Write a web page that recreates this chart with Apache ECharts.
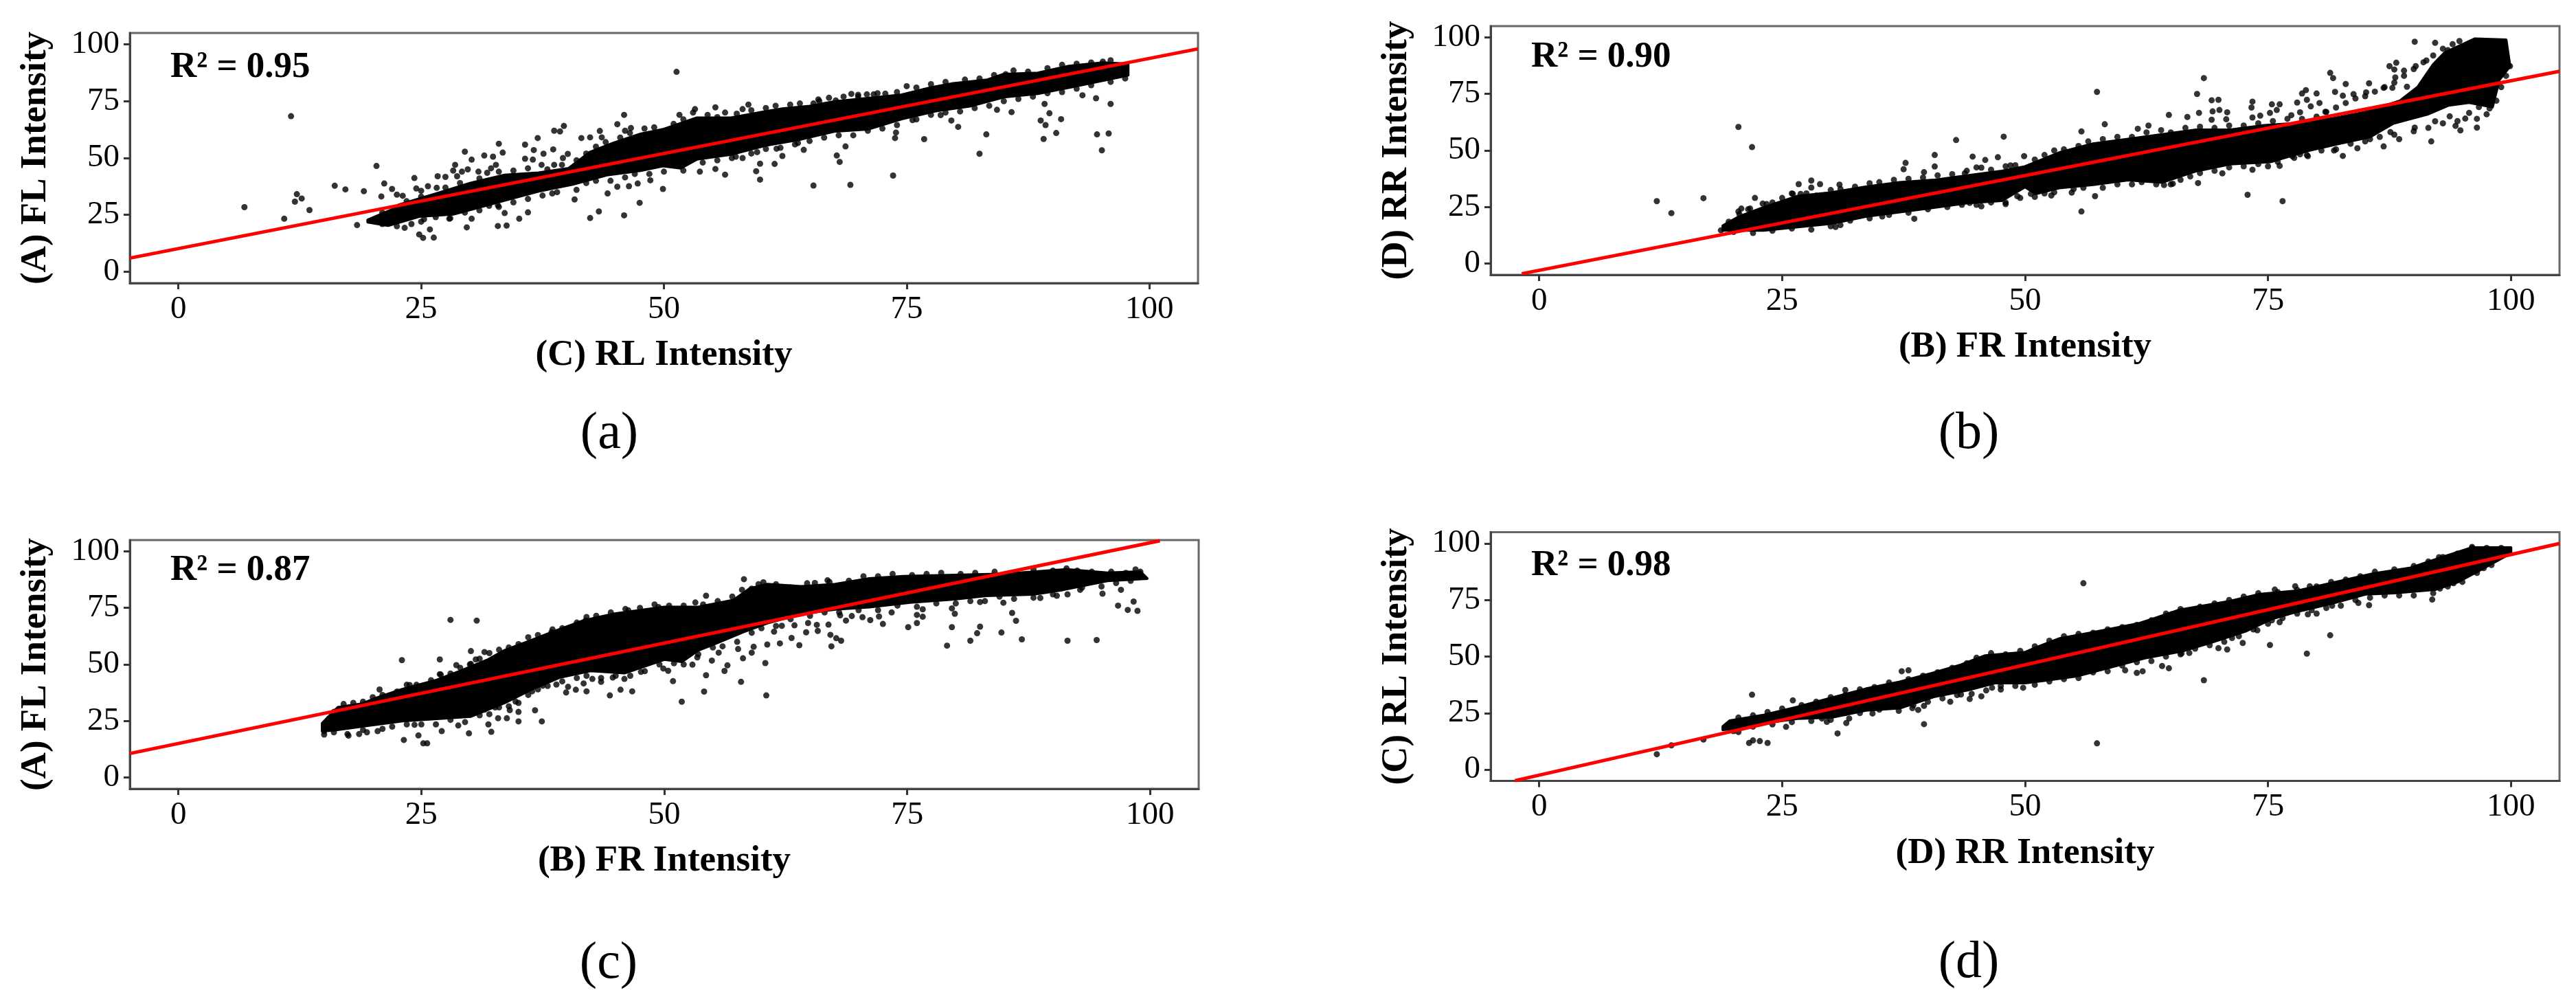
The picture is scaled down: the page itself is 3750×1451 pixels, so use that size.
<!DOCTYPE html>
<html><head><meta charset="utf-8">
<style>html,body{margin:0;padding:0;background:#fff}#c{width:3750px;height:1451px}</style>
<script src="https://cdn.jsdelivr.net/npm/echarts@6/dist/echarts.min.js"></script>
</head><body><div id="c"></div>
<script>
const tickValues = [0, 25, 50, 75, 100];

const titlesX = ['(C) RL Intensity', '(B) FR Intensity', '(B) FR Intensity', '(D) RR Intensity'];
const titlesY = ['(A) FL Intensity', '(D) RR Intensity', '(A) FL Intensity', '(C) RL Intensity'];
const r2Labels = ['R² = 0.95', 'R² = 0.90', 'R² = 0.87', 'R² = 0.98'];
const captions = ['(a)', '(b)', '(c)', '(d)'];

const fitA = [[-5, 6], [105, 98]];
const fitB = [[-1.8, -4.5], [105, 85]];
const fitC = [[-5, 10.6], [101, 104.7]];
const fitD = [[-2.5, -4.9], [105, 100]];

// outline of the area where the points merge into solid black
const cloudA = [[19.5,22.8],[22,27.3],[22.7,29.4],[26.6,34.4],[30.1,39],[33.6,42.5],[37.1,43.5],[40.2,45.5],[42.4,52.6],[44.8,56.6],[47.6,60.6],[50,62.7],[53.4,67.7],[56.9,67.7],[60.1,70.2],[62.2,71.7],[65,72.8],[67.5,74.8],[71,76.3],[74.5,77.8],[77.3,80.8],[79.8,82.8],[83.3,84.4],[85,86.9],[88.5,87.4],[91.7,90.4],[95.2,91.9],[97.8,91.4],[97.8,86.4],[95.5,84.4],[92,81.3],[88.5,78.3],[85,76.8],[81.5,72.8],[78,70.7],[74.5,67.2],[71,62.7],[67.5,61.7],[63.9,58.1],[60.5,55.6],[56.9,51.6],[53.4,49.5],[51.7,45.5],[49.9,46.5],[47.6,44.5],[44.1,42.5],[40.6,38.4],[37.1,35.4],[33.6,31.4],[30.1,27.3],[28.3,25.3],[24.8,24.3],[21.6,20.3],[19.5,21.8]];
const cloudB = [[18.9,16.7],[20.6,20.8],[23.1,24.8],[26.6,29.8],[30.1,31.4],[33.6,33.9],[37.1,35.9],[40.6,36.9],[44.1,38.9],[47.6,40.9],[50,42.9],[53.5,49],[57,53],[60.6,55],[64.1,57.1],[67.6,59.1],[71.1,59.1],[74.6,61.1],[78.1,62.1],[81.6,64.1],[85.1,67],[88.6,72],[90.4,78],[92,88],[93.2,93.3],[96.3,99.4],[99.5,98.9],[99.9,87.3],[98.8,81.2],[98.1,69.2],[95.7,71.2],[93.6,70],[91.4,66],[87.9,62],[85.5,56],[82.3,53],[79.2,50],[75.3,45],[71.1,44],[67.6,40.9],[64.1,35.9],[60.6,36.9],[57,34.9],[53.5,33.4],[51.1,30.8],[50,33.9],[47.6,27.8],[44.1,26.8],[40.6,24.8],[37.1,22.8],[33.6,20.8],[30.1,17.7],[26.6,16.2],[23.1,14.7],[20.6,14.7],[18.9,14.7]];
const cloudC = [[14.8,24],[16.4,31],[18.9,32.6],[20.3,35.1],[23.1,39.1],[26.6,43.1],[29.1,47.2],[31.9,52.2],[33.6,56.3],[36.1,60.3],[38.5,64.3],[41.7,69.4],[44.9,72.4],[50,75.4],[53.5,75.4],[57.1,78.4],[58.8,83.5],[60.6,85.5],[64.1,84.5],[67.6,85.5],[71.1,88],[74.6,89],[79.8,89.5],[85.1,90],[91.4,92],[95.6,90.5],[99,91],[99.7,88],[95.6,87],[91,83],[88,81],[83.1,80.4],[79.9,78.9],[75.3,77.4],[71.1,75.4],[67.6,74.4],[64.1,72.4],[60.6,68.3],[58.1,64.3],[55.3,59.3],[53.5,56.3],[51.8,51.2],[50,52.2],[45.9,46.2],[42.4,47.2],[39.2,44.2],[36.4,39.1],[33.6,33.1],[30.1,27],[26.6,26],[23.1,25],[19.6,23],[16.1,21],[14.8,20.5]];
const cloudD = [[18.9,19.1],[19.6,21.6],[23.1,24.1],[26.6,27.7],[30.1,31.7],[33.6,35.7],[37.1,38.8],[40.6,42.8],[43.4,46.3],[45.9,50.4],[50,51.9],[51.1,53.9],[53.5,57.9],[56.7,60.4],[61.6,64.5],[63.4,67],[65.8,70.5],[71.1,74.5],[74.2,77.6],[78.1,79.1],[82.7,83.6],[85.8,86.6],[89.7,89.2],[92.8,93.7],[96,98.2],[100,98.2],[100,95.7],[97,88.7],[94.6,83.1],[92.2,79.6],[88,78.1],[85.1,77.6],[81.6,73.5],[78.1,70],[75.3,66.5],[72.8,61.4],[69.3,56.4],[66.2,52.4],[62.3,49.3],[58.8,45.3],[55.3,41.3],[51.8,39.3],[50,38.3],[46.9,38.3],[44.1,35.2],[40.6,32.2],[37.1,27.2],[33.6,26.2],[30.1,23.1],[26.6,22.6],[23.1,20.6],[20.3,18.1],[18.9,17.6]];

// individually legible points around the solid area
const pointsA = [[6.8,28.4],[11.6,68.4],[10.9,23.3],[12.2,34.1],[12.7,32.2],[12,30.8],[13.5,27.1],[16.1,37.8],[17.2,36.2],[19.1,35.4],[20.4,46.5],[18.4,20.5],[20.9,33.1],[21.2,38.8],[22,36.4],[22.5,33.9],[23.1,33.4],[24.3,41.2],[24.5,36.6],[25,35.6],[25.7,37.6],[26.7,42],[27.5,41.7],[26.6,36.9],[28.5,47],[28.3,44.5],[28.7,42],[29.5,52.8],[30.2,49.3],[29.2,44],[29.8,45],[30.9,44],[31.8,43.5],[31.5,51.1],[32.4,50.6],[33.4,52.4],[33,56.3],[32.7,47],[32.2,45.5],[35.7,55.9],[36.6,53.5],[35.7,49.7],[36.5,49.3],[37,58.8],[37.6,51.9],[38.6,53.8],[37.4,47],[38.7,47],[39.6,50],[40.1,51.8],[38.7,62],[39.3,61.7],[39.7,64.1],[41.5,58.8],[42.4,59.1],[43.4,61.9],[43.6,59.1],[45.2,64.9],[45.9,69],[46,62],[46.6,63.2],[23.3,19.3],[24.8,16.4],[25.9,18.6],[25.2,14.9],[26.3,15],[25.3,23.1],[27.9,23.3],[29.7,19.5],[30.2,23.3],[32.9,20.1],[33.8,20.3],[35.1,23.3],[36,26.1],[33.6,25.8],[32.9,29.2],[40.8,31.8],[42.4,23.6],[43.3,26.5],[45.9,24.8],[47.5,30.3],[44.2,34.4],[38.5,34.4],[45.2,37.4],[46.4,37.6],[47.3,38.8],[48.6,40.2],[49.9,36.4],[51.3,87.9],[51.6,69],[53.2,71.5],[55.3,72.3],[56.3,70],[58.1,71.5],[58.7,73.5],[53.7,44],[55.3,45.2],[56.3,42.7],[59.5,44.2],[59.9,40.5],[59.9,47.5],[61.4,47.4],[58.1,50],[57.4,50.6],[59.6,52.6],[61.6,54.1],[62.2,50.9],[64.4,53.6],[63.8,56.6],[65.4,37.9],[69.2,38.2],[67.8,51.1],[68.1,48.3],[68.7,55.1],[73.6,42.3],[73.8,58.8],[73.9,61.2],[76.8,58.3],[75.6,66.7],[78.5,68.9],[79.6,66.5],[80.3,63.7],[82.5,51.9],[83.2,60.4],[84.3,71.2],[85.8,70.2],[88.8,66.5],[89.3,64.5],[89.2,73.8],[89.7,69.7],[90.9,67.1],[90.4,61],[89.1,58.4],[93.1,77.6],[94.5,76.3],[96,73.8],[94.6,60.4],[95.8,60.8],[95.1,53.4],[75,81.6],[65.9,75.8],[69.3,78.2],[70,77.8],[70.9,78],[71.6,78],[72.8,78.3],[67.7,75.3],[65.4,74],[95.2,92.4],[85.2,86.9]];
const pointsB = [[12.1,27.6],[13.6,22.3],[16.9,28.9],[20.5,60.4],[21.9,51.5],[22.2,29],[18.7,14.7],[20.8,24.3],[20.6,21.8],[21.7,24.3],[23.4,26.3],[25.2,25.8],[26.1,30.8],[26.7,35.1],[28,36.7],[28,33.6],[28.9,35.1],[26.9,30.8],[30.9,34.9],[30.5,16.2],[38.6,19.8],[35.3,20.8],[37.5,41.7],[37.7,44.5],[40.7,48],[40.7,42.9],[42.9,54.6],[47.8,56.1],[44.6,47.3],[45.9,45.8],[47.2,47],[49.9,47.5],[39.6,40.4],[43.8,39.9],[45.5,42.4],[48.5,43.4],[45.5,25.3],[48,26.3],[44.3,26.8],[49.2,29.8],[57.4,75.9],[68.4,82],[58.2,61.6],[55.8,58.4],[67.7,75],[69.2,72.2],[69.9,72.4],[64.8,65.7],[66.7,64.8],[67.9,66.6],[69.3,67.3],[70,67.9],[70.8,66.9],[70.7,63.8],[62.7,61],[61.6,59.6],[69.2,63.6],[73.4,71.6],[73.3,69],[74.2,65.4],[75.4,70.4],[76.2,70.4],[75.9,67.9],[75.2,66.6],[73.4,64.6],[78,71.2],[78.9,76.7],[78.5,75.2],[80,75.2],[79,72.4],[80.3,71],[79.4,69.5],[77.4,65.6],[78.3,66.9],[80.9,67.1],[81.4,84.3],[81.7,82],[83,79.4],[81.9,75.9],[83.8,74.9],[82.7,74.2],[85.4,79.7],[85.1,75.7],[86.9,77.7],[87.8,77.7],[87.5,87.3],[88.2,88.8],[88,85.8],[90.1,98.1],[92.2,97.6],[94.7,98.4],[89,85.3],[88.1,82.3],[90.2,87.3],[91.3,89.8],[89.3,78.2],[89.6,74.2],[93.5,94.4],[55.8,23],[57.2,29.8],[52.7,30.1],[54.8,31.4],[50.6,30.8],[67.8,35.6],[65.2,35.3],[64.3,34.7],[70.3,39.9],[72.9,30.4],[76.5,27.6],[76.2,43.2],[73.4,41.5],[77.7,46.7],[78.3,48.3],[79.1,47.5],[82.7,47.6],[81.8,50],[84.2,51],[86.9,51.8],[88.5,55],[91.8,54],[92.2,62.9],[94.3,60.9],[94.8,58.9],[96.5,60.1],[95.3,64.1],[95.7,66.6],[97.8,68.6],[96.7,69.2],[93.7,65.1],[85.5,55],[90.1,60.1],[87.6,58.1],[98.1,74.7],[99.9,87.3]];
const pointsC = [[28,69.7],[30.7,69.4],[23,51.9],[26.9,52.2],[30.1,55.9],[31.5,55.5],[28.6,49.7],[30.1,50.2],[30.6,52.2],[32.6,52.5],[20.7,38.9],[23.8,40.9],[26.9,45.7],[35.7,57.3],[38.4,64.3],[39.6,62.1],[41.9,69.4],[46.3,73.9],[49.4,75.4],[15,20.5],[17.4,19.2],[18.6,19.2],[19.4,20],[21,21.5],[23.2,16.6],[24.7,18.6],[25.2,15.1],[25.6,15.1],[24.3,23.3],[27.1,20.5],[28.8,23],[29.9,19.5],[32.2,20.2],[31.9,23.5],[32.9,26.2],[33.8,26.2],[35,24.8],[37.4,24.8],[36.7,29.7],[35,29],[34.1,29.8],[34.7,33.6],[32.6,31],[31.5,30],[39.9,37.6],[40.9,38.8],[42,38.1],[40.1,40.1],[41.7,41.6],[42.6,43.6],[43.5,42.3],[44.7,44.2],[44.4,36.3],[45.5,38.8],[46.7,38.1],[45.9,43.6],[47.6,46.7],[49.9,48.2],[38.9,41.1],[37.5,40.6],[36.4,38.1],[58.2,87.7],[54.3,80.4],[60.2,86.3],[59.7,85.5],[59,83.5],[53.2,77.4],[66.8,87.2],[64.7,85.9],[50.4,47.2],[50.9,42.6],[51.8,33.5],[52.9,49.9],[53.4,53.1],[54.1,38],[54.3,45.2],[56.2,47.1],[56.5,49.6],[57.9,42.3],[60.5,36.3],[60.4,50.6],[54.9,51.7],[55.6,55.2],[58.1,52.7],[57.6,56.8],[59,55.2],[59.2,57.8],[60.6,58.8],[61.9,59.3],[63.9,58.5],[67.2,58],[63.1,61.7],[64.6,64.2],[65.8,64.8],[61.3,64.5],[62.1,67.1],[63.4,67.3],[65.7,67.5],[66.9,67.6],[64.8,68.3],[67.1,63.1],[67.7,61.6],[68.2,60.5],[68.1,71.7],[68.7,69.4],[69.3,71.4],[70.4,70.9],[71.2,69.6],[72.5,67.9],[72.1,71.2],[73.4,73],[75.1,66.5],[76,68.3],[76,71.9],[76.6,71.1],[76.6,74.4],[79.6,74.8],[79.9,72.4],[79.6,66.5],[82.5,66.7],[82.2,63.8],[81.5,60.5],[79.1,58.3],[84.7,64.1],[86.8,61.1],[86.2,69.3],[85.8,72.8],[84.9,77.3],[82.5,77.6],[91.5,60.5],[94.5,60.8],[95.1,81.3],[97,83],[96.7,76],[98.3,77.8],[97.7,74.1],[98.7,73.7],[92.8,83],[90.4,80.4],[88.7,79.4],[91.4,92.5],[99,91]];
const pointsD = [[12.1,6.8],[13.6,10.7],[16.9,13.3],[20.5,16.6],[21.9,33.1],[26.1,30.6],[21.6,11.8],[22,12.9],[22.7,12.6],[23.5,11.8],[25.4,18.9],[30.7,16],[31.5,35.2],[39.6,20.1],[34.3,24.8],[37.3,43.5],[38,43.9],[31.9,22.6],[31.6,20.6],[29.6,21.1],[29.1,22.6],[38.4,27.2],[39,26.4],[39.6,28.2],[42.3,30],[44.3,31.2],[45.5,32.4],[47.5,35.4],[46.6,36.2],[43.4,33.2],[42.4,35.2],[49.8,36.2],[56,82.4],[57.4,11.6],[68.4,39.5],[64.1,45.8],[64.8,44.8],[62.1,43.5],[61.5,42.8],[60.3,43.9],[66.9,51.6],[66.1,51.4],[69.9,53.7],[70.8,53.1],[72.4,56],[75.2,55.1],[79,51.3],[81.4,59.4],[91.9,75.2],[85.4,72.7],[84.3,73.7],[80,69],[79.1,68.7],[81.6,72.5],[76.2,65.2],[75.4,66],[73.9,61.6],[71.3,58.2],[92.7,80.1],[94.1,82.4],[95,85.1],[97.2,89.1],[75.7,79.6],[77.8,81.1],[79.3,81.1],[65.1,68.7],[96,97.9],[92.6,93.9]];

// points that make the rough upper and lower rim of each solid area
const rimA = [[21,26],[23.5,31],[25,33],[27.5,37],[29,39],[31,41],[33,44],[34.5,44.5],[36,45.5],[38,45],[39.5,47],[41,49],[42,52],[43,55],[44,57],[45.5,59],[46.5,61],[48,63],[49,63.5],[51,65],[52,67],[53,70],[54.5,69],[55.5,68],[57.5,69.5],[59,71],[60.5,72],[61.5,73],[63,73.5],[64,74],[66,75],[67,76.5],[68.5,77],[70,77],[72,78.5],[74,79],[76,81],[77.5,82.5],[79,83.5],[81,84.5],[82.5,85],[84,86.5],[86,88.5],[87.5,88],[89.5,89.5],[91,91],[92.5,91.5],[94,92],[96,93],[21,21],[22.5,20],[24,21],[25,22],[26.5,24],[28,23.5],[29.5,26],[31,27],[32,29],[33,28.5],[34.5,30.5],[36,32],[37.5,33.5],[39,35],[41,36],[42,39],[43,40],[44.5,40],[46,41.5],[47,43],[48.5,43],[50,44],[52,44.5],[54,48],[55.5,49],[57,50],[59,52],[60.5,54],[62,54.5],[63.5,56],[65,57.5],[66.5,59],[68,60],[69.5,60],[71,62],[72.5,63],[74,64.5],[76,67],[77.5,69],[79,70],[80.5,70.5],[82,72],[83.5,73],[85,75],[86.5,76],[88,77],[89.5,78.5],[91,79],[92.5,80.5],[94,82],[96,83.5],[97.5,85]];
const rimB = [[19.5,18.5],[20.5,23],[21.5,24],[23,26.5],[24,27],[25,29],[26,31],[27.5,31],[28.5,30],[30,32.5],[31,33],[32.5,34],[34,35.5],[35,36],[36.5,37],[38,37.5],[39.5,38],[41,39],[42.5,39.5],[44,41],[45,42.5],[46.5,41.5],[48,43],[49,43.5],[51,46],[52,48],[53,50],[54,50.5],[55.5,52],[56.5,54],[58,55],[59.5,56],[61,56],[62.5,58],[64,59],[65,58],[66.5,60],[68,60.5],[69.5,60],[71,61],[72.5,61],[74,62],[75.5,63],[77,64],[78.5,64],[80,65],[81,67],[82,69],[83,71],[84,73],[85,74],[86,76],[87,78],[88,80],[89,83],[90,86],[91,89],[92,92],[93,95],[94,97],[20,14],[22,13.5],[24,14.5],[26,15.5],[28,15],[30,16.5],[31,17],[32,19],[34,20],[36,21.5],[38,22.5],[40,24],[42,25],[43.5,26],[45,26],[46.5,27],[48,27],[49.5,29],[51,29.5],[52,31],[53,31.5],[55,33],[56,33.5],[58,33.5],[59.5,35],[61,35],[62,36],[63.5,35],[65,35],[66,37],[67,38.5],[68,40],[69.5,41],[71,42.5],[72.5,43],[74,44],[75,43],[76,45],[77.5,47.5],[79,48],[80.5,50],[82,50.5],[83.5,53],[85,54],[86.5,56],[88,57],[90,58.5],[91.5,60],[93,62],[94.5,63],[96.5,64],[97.5,66],[98.5,72],[99,78],[99.5,83]];
const rimC = [[15.5,26],[16,29],[17,32.5],[18,33],[19,33.5],[20,35.5],[21,36.5],[22.5,38],[23.5,41],[24.5,41],[26,43],[27,45.5],[28,46],[29,48.5],[30,50],[31,52.5],[32,55],[33,56.5],[34,57.5],[35,59],[36,62],[37,63],[38.5,65.5],[39.5,66],[41,68.5],[42,71],[43,71.5],[44.5,73],[46,74.5],[47.5,75],[49,76.5],[50.5,76],[52,76],[54,76.5],[55.5,78],[57,80],[58,83],[61.5,85.5],[63,84],[65.5,86],[67,86.5],[69,87],[70.5,89],[72,89],[73.5,90],[75.5,89.5],[77,90],[78.5,90.5],[80.5,90],[82,90.5],[84,91],[86,90.5],[88,92],[90,91.5],[92.5,91.5],[94,91],[96,91],[97.5,90.5],[98.5,92],[15,19],[16,20],[17.5,18.5],[19,21],[20.5,20.5],[22,22.5],[23.5,23.5],[25,23.5],[26.5,23.5],[28,25.5],[29.5,24.5],[31,27.5],[32,28],[33,31],[34,31.5],[35,33],[36,36.5],[37,39],[38,40.5],[39.5,42.5],[41,44],[42,45],[43.5,44],[45,45],[46.5,45],[48,47],[49.5,50],[51,50.5],[52,50],[53.5,54.5],[55,57.5],[56,58],[57.5,60],[59,64],[60,66],[61.5,67],[63,70],[65,71.5],[66.5,73],[68,73],[70,74],[72,74],[74,76],[76,75.5],[78,77],[80,77],[81.5,78],[83,78],[84.5,80],[86,79],[88,79.5],[90,81],[91.5,81],[93,84],[95,84.5],[96.5,86],[98,87]];
const rimD = [[19.5,20],[20.5,23],[22,24],[23.5,25.5],[25,27],[27,28.5],[28.5,30],[30,32],[31.5,33],[33,35.5],[34.5,36.5],[36,38.5],[38,40],[39.5,41.5],[41,43],[42.5,45],[44,47],[45,49.5],[46.5,51.5],[48,51],[49.5,52.5],[51,54.5],[52.5,57],[54,59],[55.5,60],[57,60.5],[58.5,62],[60,63],[61.5,64],[63,66],[64.5,69],[66,71],[68,72],[69.5,73.5],[71,75],[72.5,76.5],[74,78],[76,78.5],[78,79.5],[80,81],[81.5,83],[83,84],[84.5,85.5],[86,87.5],[88,88.5],[90,90],[91.5,92],[93,94],[94.5,95.5],[96,98.5],[97.5,98],[99,98],[20,17],[22,19],[24,20],[26,21],[28,21.5],[30,22],[31.5,25],[33,25],[35,26.5],[37,26],[38.5,28.5],[40,30],[41.5,31.5],[43,33],[44.5,33.5],[46,35],[47.5,37],[49,37],[51,37.5],[52.5,39],[54,40],[55.5,40.5],[57,43],[58.5,43.5],[60,46],[61.5,47.5],[63,48],[64.5,50],[66,51],[67.5,53.5],[69,55],[70.5,56.5],[72,59],[73.5,62],[75,64.5],[76.5,67],[78,69],[79.5,70.5],[81,71.5],[82.5,72.5],[84,75],[85.5,76],[87,77],[88.5,77],[90,77],[92,78],[93.5,81],[95,83],[96.5,87],[98,90.5]];

const clouds = [cloudA, cloudB, cloudC, cloudD];
const points = [pointsA.concat(rimA), pointsB.concat(rimB), pointsC.concat(rimC), pointsD.concat(rimD)];
const fits = [fitA, fitB, fitC, fitD];

// layout of the four panels
const frames = [
  {left: 189, top: 48, width: 1555, height: 364},
  {left: 2170, top: 38, width: 1556, height: 362},
  {left: 189, top: 786, width: 1556, height: 362},
  {left: 2170, top: 774.5, width: 1556, height: 362}
];
const r2Pos = [[248, 98], [2229, 83], [248, 830], [2229, 823]];
const capPos = [[887, 632], [2866, 632], [886, 1403], [2866, 1402]];
const FONT = '"Liberation Serif"';

const axisCommon = {
  type: 'value', min: -5, max: 105,
  nameLocation: 'middle',
  nameTextStyle: {fontFamily: FONT, fontWeight: 'bold', fontSize: 53, color: '#000'},
  splitLine: {show: false},
  axisLine: {show: true, onZero: false, lineStyle: {color: '#444', width: 3}},
  axisTick: {show: true, length: 9, lineStyle: {color: '#333', width: 3}, customValues: tickValues},
  axisLabel: {fontFamily: FONT, fontSize: 47, color: '#000', margin: 15, customValues: tickValues}
};

const series = [];
frames.forEach((f, i) => {
  series.push({
    type: 'custom', xAxisIndex: i, yAxisIndex: i, silent: true, z: 2,
    coordinateSystem: 'cartesian2d',
    data: clouds[i],
    renderItem: (params, api) => {
      if (params.dataIndex !== 0) return null;
      return {
        type: 'polygon',
        shape: {points: clouds[i].map(p => api.coord(p))},
        style: {fill: '#000', stroke: '#000', lineWidth: 4, lineJoin: 'round'}
      };
    }
  });
  series.push({
    type: 'scatter', xAxisIndex: i, yAxisIndex: i, silent: true, z: 3,
    symbol: 'circle', symbolSize: 9, itemStyle: {color: '#000'},
    data: points[i]
  });
  series.push({
    type: 'line', xAxisIndex: i, yAxisIndex: i, silent: true, z: 4,
    showSymbol: false, symbol: 'none', data: fits[i],
    lineStyle: {color: '#ff0000', width: 5}
  });
});

const graphic = [];
r2Labels.forEach((t, i) => graphic.push({
  type: 'text', x: r2Pos[i][0], y: r2Pos[i][1], z: 10,
  style: {text: t, font: 'bold 53px ' + FONT, fill: '#000', align: 'left', verticalAlign: 'middle'}
}));
captions.forEach((t, i) => graphic.push({
  type: 'text', x: capPos[i][0], y: capPos[i][1], z: 10,
  style: {text: t, font: '76px ' + FONT, fill: '#000', align: 'center', verticalAlign: 'middle'}
}));

const chart = echarts.init(document.getElementById('c'), null, {renderer: 'canvas'});
chart.setOption({
  animation: false,
  backgroundColor: '#fff',
  grid: frames.map(f => Object.assign({}, f, {show: true, borderColor: '#666', borderWidth: 3, backgroundColor: '#fff'})),
  xAxis: frames.map((f, i) => Object.assign({}, axisCommon, {gridIndex: i, name: titlesX[i], nameGap: 79})),
  yAxis: frames.map((f, i) => Object.assign({}, axisCommon, {gridIndex: i, name: titlesY[i], nameGap: 110})),
  series,
  graphic
});
</script></body></html>
